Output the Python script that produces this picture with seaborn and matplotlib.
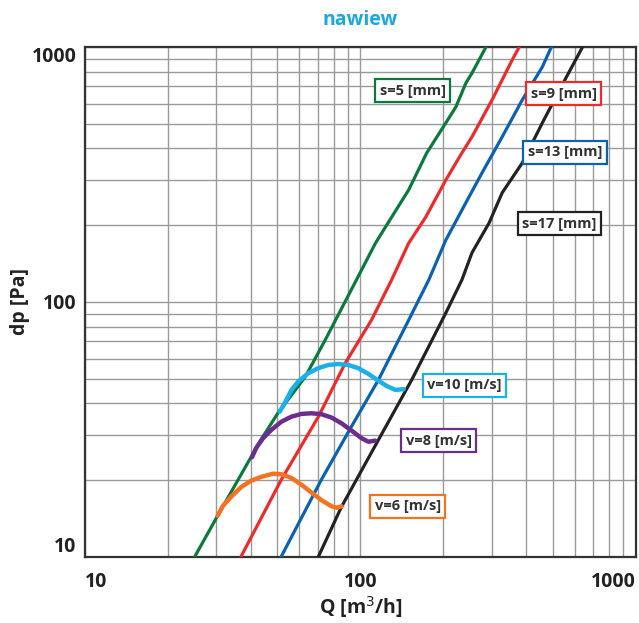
import matplotlib.pyplot as plt
import pandas as pd
import seaborn as sns
from matplotlib.ticker import FixedLocator, NullFormatter

# Series (Q in m3/h, dp in Pa)
s5_q = [25.0, 30.3, 35.9, 43.5, 50.2, 63.0, 74.5, 96.7, 113.4, 123.4, 149.7, 174.1, 204.3, 222.2, 241.7, 254.2, 285.8]
s5_dp = [10, 14.5, 20.0, 28.8, 36.7, 50.8, 70.9, 122, 170, 197, 275, 384, 504, 582, 723, 790, 1000]

s9_q = [36.8, 51.5, 70.3, 88.2, 109.7, 129.8, 149.7, 172.6, 204.3, 233.6, 254.2, 300.7, 355.7, 377.4]
s9_dp = [10, 20.0, 35.4, 57.7, 84.9, 122, 170, 215, 301, 384, 444, 620, 889, 1000]

s13_q = [51.5, 72.0, 92.7, 116.3, 149.7, 177.1, 204.3, 247.8, 276.5, 327.2, 387.0, 457.8, 493.6]
s13_dp = [10, 20.0, 32.4, 49.5, 84.9, 122, 175, 258, 321, 444, 620, 835, 1000]

s17_q = [70.3, 85.3, 116.3, 153.6, 204.3, 233.6, 254.2, 293.2, 327.2, 387.0, 457.8, 560.0, 640.8]
s17_dp = [10, 15.7, 28.8, 49.5, 90.6, 122, 156, 204, 268, 351, 504, 763, 1000]

v10_q = [50.9, 53.1, 56.2, 59.4, 64.6, 70.3, 76.4, 83.1, 90.4, 98.3, 107.0, 116.3, 124.7, 133.9, 143.6]
v10_dp = [37.1, 40.1, 45.2, 48.7, 52.5, 55.0, 56.6, 57.1, 56.6, 55.0, 52.2, 49.1, 46.8, 45.2, 45.5]

v8_q = [40.4, 41.8, 44.3, 47.5, 51.6, 56.2, 61.1, 66.4, 72.2, 78.6, 85.5, 92.9, 101.1, 107.0, 113.1]
v8_dp = [24.6, 26.7, 29.2, 31.5, 33.9, 35.5, 36.4, 36.6, 36.3, 35.2, 33.4, 31.3, 29.2, 28.3, 28.6]

v6_q = [30.3, 31.6, 33.9, 36.9, 40.1, 43.6, 48.1, 51.6, 56.2, 61.1, 66.4, 72.2, 78.6, 81.9, 85.5]
v6_dp = [14.5, 15.8, 17.2, 18.8, 19.9, 20.6, 21.2, 21.1, 20.4, 19.2, 17.9, 16.7, 15.8, 15.6, 15.8]

s_names = ["s=5 [mm]", "s=9 [mm]", "s=13 [mm]", "s=17 [mm]"]
v_names = ["v=10 [m/s]", "v=8 [m/s]", "v=6 [m/s]"]

x_ticks = [10, 100, 1000]
y_ticks = [10, 100, 1000]


def main():
    sns.set_theme(style="white")
    plt.rcParams["font.family"] = ["Open Sans", "DejaVu Sans"]

    s_series = [(s5_q, s5_dp), (s9_q, s9_dp), (s13_q, s13_dp), (s17_q, s17_dp)]
    v_series = [(v10_q, v10_dp), (v8_q, v8_dp), (v6_q, v6_dp)]
    s_colors = ["#0b7a3e", "#ee2a2a", "#0a62b0", "#222222"]
    v_colors = ["#1bb0e8", "#6b2d90", "#f47321"]

    frames = []
    for name, (q, dp) in zip(s_names, s_series):
        frames.append(pd.DataFrame({"Q": q, "dp": dp, "name": name}))
    df_s = pd.concat(frames, ignore_index=True)
    frames = []
    for name, (q, dp) in zip(v_names, v_series):
        frames.append(pd.DataFrame({"Q": q, "dp": dp, "name": name}))
    df_v = pd.concat(frames, ignore_index=True)

    fig = plt.figure(figsize=(6.39, 6.23), dpi=100)
    ax = fig.add_axes([0.133, 0.106, 0.862, 0.8186])
    ax.set_xscale("log")
    ax.set_yscale("log")

    sns.lineplot(data=df_s, x="Q", y="dp", hue="name", palette=s_colors,
                 estimator=None, sort=False, linewidth=2.3, legend=False, ax=ax,
                 zorder=3, solid_joinstyle="round")
    sns.lineplot(data=df_v, x="Q", y="dp", hue="name", palette=v_colors,
                 estimator=None, sort=False, linewidth=3.2, legend=False, ax=ax,
                 zorder=4, solid_joinstyle="round")

    ax.set_xlim(10, 1000)
    ax.set_ylim(10, 1000)

    # grid on every 1-9 step of each decade
    minor = [m * d for d in (10, 100) for m in range(2, 10)]
    ax.xaxis.set_major_locator(FixedLocator(x_ticks))
    ax.yaxis.set_major_locator(FixedLocator(y_ticks))
    ax.xaxis.set_minor_locator(FixedLocator(minor))
    ax.yaxis.set_minor_locator(FixedLocator(minor))
    ax.xaxis.set_minor_formatter(NullFormatter())
    ax.yaxis.set_minor_formatter(NullFormatter())
    ax.grid(True, which="both", color="#9a9a9a", linewidth=1.0, zorder=0)
    ax.set_axisbelow(True)

    ax.set_xticklabels([str(t) for t in x_ticks], fontsize=14, fontweight="bold", color="#222222")
    ax.set_yticklabels([str(t) for t in y_ticks], fontsize=14, fontweight="bold", color="#222222")
    ax.tick_params(axis="both", which="both", length=0)
    ax.tick_params(axis="x", pad=11)
    ax.tick_params(axis="y", pad=6)
    xl = ax.get_xticklabels()
    xl[0].set_ha("left")
    xl[-1].set_ha("right")
    yl = ax.get_yticklabels()
    yl[0].set_va("bottom")
    yl[-1].set_va("top")

    for sp in ax.spines.values():
        sp.set_color("#333333")
        sp.set_linewidth(1.6)

    ax.set_xlabel("Q [m$^3$/h]", fontsize=14, fontweight="bold", color="#222222", labelpad=1)
    ax.set_ylabel("dp [Pa]", fontsize=14, fontweight="bold", color="#222222", labelpad=1)
    ax.set_title("nawiew", fontsize=14, fontweight="bold", color="#1ba7e0", pad=16)

    # boxed labels
    label_pos = [(154.9, 675), (548, 655), (553, 386), (528, 203)]
    for name, col, (lx, ly) in zip(s_names, s_colors, label_pos):
        ax.text(lx, ly, name, fontsize=10.5, fontweight="bold", color="#333333",
                ha="center", va="center", zorder=6,
                bbox=dict(boxstyle="square,pad=0.3", fc="white", ec=col, lw=1.6))
    label_pos = [(238.8, 47.1), (192.6, 28.6), (148.4, 15.8)]
    for name, col, (lx, ly) in zip(v_names, v_colors, label_pos):
        ax.text(lx, ly, name, fontsize=10.5, fontweight="bold", color="#333333",
                ha="center", va="center", zorder=6,
                bbox=dict(boxstyle="square,pad=0.3", fc="white", ec=col, lw=1.6))

    fig.savefig("out.png", dpi=100)
    plt.close(fig)


if __name__ == "__main__":
    main()
